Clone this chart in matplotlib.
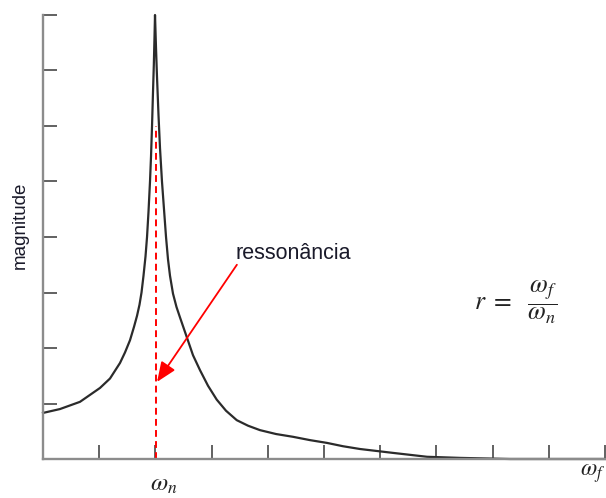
import matplotlib
matplotlib.use('Agg')
from matplotlib import pyplot as plt

# curve (x: tick units, w_n at 2; y: tick units)
curve_x = [0.000, 0.302, 0.658, 1.014, 1.192, 1.370, 1.459, 1.548, 1.619,
           1.673, 1.717, 1.753, 1.788, 1.824, 1.851, 1.877, 1.904, 1.922,
           1.940, 1.957, 1.972, 1.984, 1.993,
           2.011, 2.028, 2.055, 2.082, 2.117, 2.153, 2.189, 2.224, 2.260,
           2.313, 2.375, 2.438, 2.557, 2.669, 2.794, 2.936, 3.091, 3.256,
           3.447, 3.648, 3.861, 4.146, 4.448, 4.751, 5.053, 5.338, 5.641,
           6.228, 6.833, 7.420, 8.310, 10.00]
curve_y = [0.83, 0.90, 1.03, 1.28, 1.45, 1.73, 1.92, 2.14, 2.38,
           2.58, 2.78, 3.00, 3.30, 3.65, 4.00, 4.45, 5.00, 5.45,
           6.00, 6.60, 7.10, 7.60, 8.00,
           7.40, 6.90, 6.20, 5.60, 5.00, 4.50, 4.00, 3.60, 3.30,
           2.98, 2.74, 2.55, 2.20, 1.87, 1.60, 1.32, 1.07, 0.87,
           0.70, 0.60, 0.52, 0.45, 0.40, 0.34, 0.29, 0.23, 0.18,
           0.11, 0.04, 0.02, 0.00, 0.00]

x_ticks = [1, 2, 3, 4, 5, 6, 7, 8, 9, 10]
y_ticks = [1, 2, 3, 4, 5, 6, 7, 8]

w_n = 2.01
dash_top = 6.0
arrow_tail = (3.45, 3.50)
arrow_tip = (2.03, 1.39)


def main():
  plt.rcParams['mathtext.fontset'] = 'stix'
  fig = plt.figure(figsize=(6.06, 4.98), dpi=100)
  ax = fig.add_axes([43 / 606, 39 / 498, 563 / 606, 444 / 498])

  ax.plot(curve_x, curve_y, color='#2b2b2b', lw=1.6, clip_on=False,
          solid_joinstyle='round')
  ax.plot([w_n, w_n], [0, dash_top], color='red', lw=1.4,
          dashes=(3.5, 2.2))

  ax.annotate('', xy=arrow_tip, xytext=arrow_tail,
              arrowprops=dict(arrowstyle='-|>,head_length=1.2,head_width=0.5',
                              color='red', lw=1.3, shrinkA=0, shrinkB=0))
  ax.text(3.42, 3.60, 'ressonância', fontsize=15.5, family='Liberation Sans',
          color='#1a1a2a', ha='left', va='baseline')

  ax.text(8.42, 2.83, r'$r\ =\ \ \dfrac{\omega_f}{\omega_n}$', fontsize=18.5,
          ha='center', va='center', color='#222222')
  ax.text(2.14, -0.45, r'$\omega_n$', fontsize=18, ha='center', va='center',
          clip_on=False, color='#222222')
  ax.text(9.56, -0.25, r'$\omega_f$', fontsize=17, ha='left', va='center',
          clip_on=False, color='#222222')

  fig.text(20 / 606, 1 - 225 / 498, 'magnitude', rotation=90, fontsize=13.5,
           family='Liberation Sans', color='#1a1a2a', ha='center', va='center')

  ax.set_xlim(0, 563 / 56.2)
  ax.set_ylim(0, 8)
  ax.set_xticks(x_ticks)
  ax.set_yticks(y_ticks)
  ax.set_xticklabels([])
  ax.set_yticklabels([])
  ax.tick_params(direction='in', length=10, width=1.3, colors='#555555')
  for side in ('top', 'right'):
    ax.spines[side].set_visible(False)
  for side in ('left', 'bottom'):
    ax.spines[side].set_color('#8c8c8c')
    ax.spines[side].set_linewidth(1.7)

  fig.savefig('out.png', dpi=100)


if __name__ == '__main__':
  main()
